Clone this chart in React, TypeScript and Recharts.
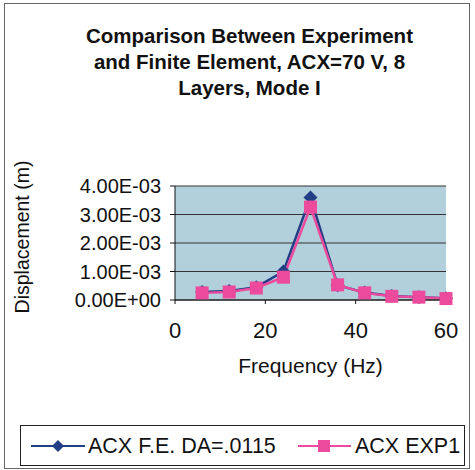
import React from 'react';
import { LineChart, Line, XAxis, YAxis, CartesianGrid, Label } from 'recharts';

const frequencies = [6, 12, 18, 24, 30, 36, 42, 48, 54, 60];
const feValues = [0.00028, 0.00032, 0.00045, 0.00100, 0.00360, 0.00052, 0.00026, 0.00014, 0.00010, 0.00006];
const expValues = [0.00025, 0.00028, 0.00042, 0.00080, 0.00326, 0.00053, 0.00025, 0.00013, 0.00010, 0.00005];
const xTicks = [0, 20, 40, 60];
const yTicks = [0, 0.001, 0.002, 0.003, 0.004];
const titleLines = ['Comparison Between Experiment', 'and Finite Element, ACX=70 V, 8', 'Layers, Mode I'];
const seriesNames = ['ACX F.E. DA=.0115', 'ACX EXP1'];

const data = frequencies.map((f, i) => ({ f, fe: feValues[i], exp: expValues[i] }));

const BLUE = '#223f86';
const PINK = '#ec4a9c';
const FONT = '"Liberation Sans", Arial, sans-serif';

const fmt = (v: number) => {
  const s = v.toExponential(2).toUpperCase();
  const m = s.match(/^(-?[\d.]+)E([+-])(\d+)$/);
  if (!m) return s;
  return `${m[1]}E${m[2]}${m[3].padStart(2, '0')}`;
};

const Diamond = (props: any) => {
  const { cx, cy, index } = props;
  if (cx == null || cy == null) return <g key={`d${index}`} />;
  const r = 7;
  return <path key={`d${index}`} d={`M${cx},${cy - r}L${cx + r},${cy}L${cx},${cy + r}L${cx - r},${cy}Z`} fill={BLUE} />;
};

const Square = (props: any) => {
  const { cx, cy, index } = props;
  if (cx == null || cy == null) return <g key={`s${index}`} />;
  const s = 13;
  return <rect key={`s${index}`} x={cx - s / 2} y={cy - s / 2} width={s} height={s} fill={PINK} />;
};

const LegendBox = () => (
  <div style={{ position: 'absolute', left: 20, top: 425, width: 445, height: 41, border: '1px solid #222', boxSizing: 'border-box', background: '#fff' }}>
    <svg width={443} height={39} style={{ position: 'absolute', left: 0, top: 0 }}>
      <line x1={10} y1={20} x2={64} y2={20} stroke={BLUE} strokeWidth={2} />
      <path d="M37,14L43,20L37,26L31,20Z" fill={BLUE} />
      <text x={67} y={27} fontFamily={FONT} fontSize={21.5} fill="#111">{seriesNames[0]}</text>
      <line x1={277} y1={20} x2={330} y2={20} stroke={PINK} strokeWidth={2} />
      <rect x={297} y={14} width={12} height={12} fill={PINK} />
      <text x={334} y={27} fontFamily={FONT} fontSize={21.5} fill="#111">{seriesNames[1]}</text>
    </svg>
  </div>
);

export default function App() {
  return (
    <div style={{ position: 'absolute', left: 0, top: 0, width: 475, height: 470, background: '#fff' }}>
      <div style={{ position: 'absolute', left: 4, top: 3, width: 466, height: 466, border: '1px solid #666', boxSizing: 'border-box' }} />
      <div style={{ position: 'absolute', left: 12, top: 23, width: 475, textAlign: 'center', fontFamily: FONT, fontWeight: 'bold', fontSize: 20.5, lineHeight: '26px', color: '#111' }}>
        {titleLines.map((t) => (
          <div key={t}>{t}</div>
        ))}
      </div>
      <div style={{ position: 'absolute', left: 0, top: 0 }}>
        <LineChart width={475} height={470} data={data} margin={{ top: 186, right: 29, bottom: 82, left: 0 }}>
          <CartesianGrid horizontal vertical={false} stroke="#333" strokeWidth={1} fill="#b2d0db" fillOpacity={1} />
          <XAxis
            dataKey="f"
            type="number"
            domain={[0, 60]}
            ticks={xTicks}
            interval={0}
            height={88}
            tickSize={4}
            tickMargin={18}
            stroke="#111"
            tick={{ fontFamily: FONT, fontSize: 22, fill: '#111' }}
          >
            <Label value="Frequency (Hz)" position="insideTop" offset={58} style={{ fontFamily: FONT, fontSize: 21, fill: '#111' }} />
          </XAxis>
          <YAxis
            type="number"
            domain={[0, 0.004]}
            ticks={yTicks}
            interval={0}
            width={175}
            tickSize={5}
            tickMargin={9}
            tickFormatter={fmt}
            stroke="#111"
            tick={{ fontFamily: FONT, fontSize: 20, fill: '#111' }}
          >
            <Label value="Displacement (m)" angle={-90} position="insideLeft" offset={22} dy={-6} style={{ fontFamily: FONT, fontSize: 19.5, fill: '#111', textAnchor: 'middle' }} />
          </YAxis>
          <Line type="linear" dataKey="fe" name={seriesNames[0]} stroke={BLUE} strokeWidth={2.5} dot={Diamond} isAnimationActive={false} />
          <Line type="linear" dataKey="exp" name={seriesNames[1]} stroke={PINK} strokeWidth={2.5} dot={Square} isAnimationActive={false} />
        </LineChart>
      </div>
      <LegendBox />
    </div>
  );
}
